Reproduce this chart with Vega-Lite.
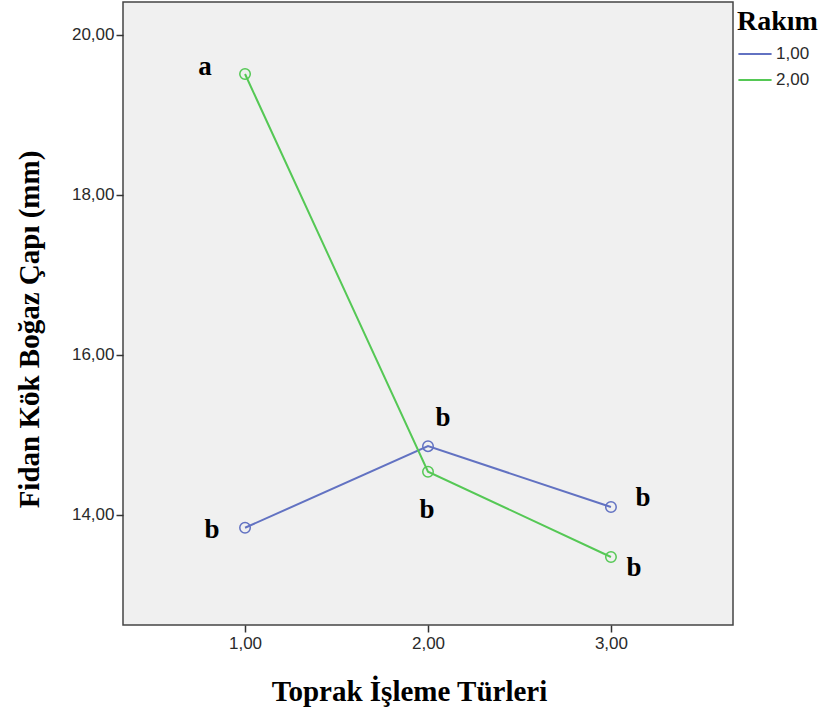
{
  "$schema": "https://vega.github.io/schema/vega-lite/v6.json",
  "width": 610,
  "height": 623,
  "autosize": {"type": "none"},
  "padding": {"left": 123, "top": 2, "right": 106, "bottom": 96},
  "background": "white",
  "config": {
    "locale": {"number": {"decimal": ",", "thousands": ".", "grouping": [3], "currency": ["", ""]}},
    "view": {"fill": "#f0f0f0", "stroke": "#444444", "strokeWidth": 1.5},
    "axis": {
      "grid": false,
      "domain": false,
      "tickColor": "#333333",
      "tickSize": 7,
      "tickWidth": 1.5,
      "labelFont": "Liberation Sans",
      "labelFontSize": 17,
      "labelColor": "#2a2a2a",
      "titleFont": "Liberation Serif",
      "titleFontSize": 29,
      "titleFontWeight": "bold",
      "titleColor": "#000000"
    }
  },
  "datasets": {
    "means": [
      {"tur": 1, "rakim": "1,00", "cap": 13.84},
      {"tur": 2, "rakim": "1,00", "cap": 14.86},
      {"tur": 3, "rakim": "1,00", "cap": 14.10},
      {"tur": 1, "rakim": "2,00", "cap": 19.51},
      {"tur": 2, "rakim": "2,00", "cap": 14.54},
      {"tur": 3, "rakim": "2,00", "cap": 13.475}
    ],
    "letters": [
      {"tur": 0.781, "cap": 19.60, "harf": "a"},
      {"tur": 0.82, "cap": 13.81, "harf": "b"},
      {"tur": 2.082, "cap": 15.21, "harf": "b"},
      {"tur": 1.995, "cap": 14.06, "harf": "b"},
      {"tur": 3.175, "cap": 14.21, "harf": "b"},
      {"tur": 3.126, "cap": 13.34, "harf": "b"}
    ]
  },
  "layer": [
    {
      "data": {"name": "means"},
      "mark": {"type": "line", "strokeWidth": 2, "point": {"filled": false, "size": 110, "strokeWidth": 1.5}},
      "encoding": {
        "x": {
          "field": "tur", "type": "quantitative",
          "scale": {"domain": [0.333, 3.667], "nice": false, "zero": false},
          "axis": {"values": [1, 2, 3], "format": ".2f", "title": "Toprak İşleme Türleri", "titlePadding": 26, "labelPadding": 3, "titleX": 286}
        },
        "y": {
          "field": "cap", "type": "quantitative",
          "scale": {"domain": [12.625, 20.41], "nice": false, "zero": false},
          "axis": {"values": [14, 16, 18, 20], "format": ".2f", "title": "Fidan Kök Boğaz Çapı (mm)", "titlePadding": 27, "labelPadding": 2, "titleY": 327}
        },
        "color": {
          "field": "rakim", "type": "nominal",
          "scale": {"domain": ["1,00", "2,00"], "range": ["#6272c2", "#55c855"]},
          "legend": {
            "title": "Rakım",
            "orient": "none",
            "legendX": 614,
            "legendY": 6,
            "titleFont": "Liberation Serif",
            "titleFontSize": 28,
            "titleFontWeight": "bold",
            "titleColor": "#000000",
            "titlePadding": 0,
            "symbolType": "stroke",
            "symbolSize": 1100,
            "symbolStrokeWidth": 2,
            "labelFont": "Liberation Sans",
            "labelFontSize": 17,
            "labelColor": "#2a2a2a",
            "labelOffset": 3,
            "rowPadding": 0,
            "symbolLimit": 0
          }
        }
      }
    },
    {
      "data": {"name": "letters"},
      "mark": {"type": "text", "font": "Liberation Serif", "fontSize": 27, "fontWeight": "bold", "baseline": "middle", "align": "center", "color": "#000000"},
      "encoding": {
        "x": {"field": "tur", "type": "quantitative"},
        "y": {"field": "cap", "type": "quantitative"},
        "text": {"field": "harf", "type": "nominal"}
      }
    }
  ]
}
